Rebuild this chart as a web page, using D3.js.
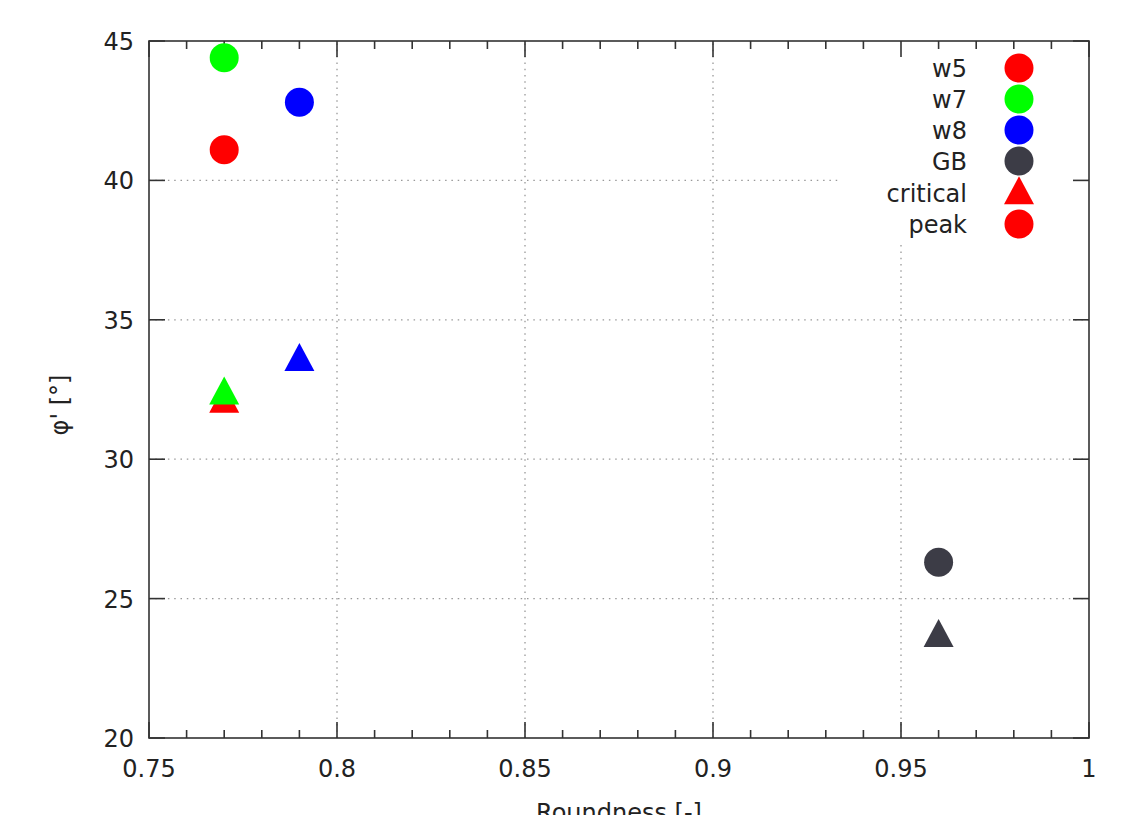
<!DOCTYPE html>
<html><head><meta charset="utf-8">
<script src="https://cdn.jsdelivr.net/npm/d3@7"></script>
<style>body{margin:0;background:#fff}svg{display:block}text{font-family:"DejaVu Sans",sans-serif;fill:#222}</style>
</head><body>
<script>
const series = ["w5","w7","w8","GB"];
const colors = ["#ff0000","#00ff00","#0000ff","#3c3c46"];
const roundness = [0.77, 0.77, 0.79, 0.96];
const peak = [41.1, 44.4, 42.8, 26.3];
const critical = [32.0, 32.3, 33.5, 23.6];
const xTicks = [0.75, 0.8, 0.85, 0.9, 0.95, 1];
const xTickLabels = ["0.75","0.8","0.85","0.9","0.95","1"];
const yTicks = [20, 25, 30, 35, 40, 45];
const legendLabels = ["w5","w7","w8","GB","critical","peak"];

const W = 1137, H = 815;
const L = 149, R = 1089, T = 41, B = 738;
const svg = d3.select("body").append("svg").attr("width", W).attr("height", H);
const x = d3.scaleLinear().domain([0.75, 1]).range([L, R]);
const y = d3.scaleLinear().domain([20, 45]).range([B, T]);
const axisColor = "#333";
const fs = 24;

// grid
const grid = svg.append("g").attr("stroke", "#999").attr("stroke-width", 1.3).attr("stroke-dasharray", "1.5,4.8");
xTicks.slice(1, -1).forEach(v => grid.append("line").attr("x1", x(v)).attr("x2", x(v)).attr("y1", B).attr("y2", T));
yTicks.slice(1, -1).forEach(v => grid.append("line").attr("x1", L).attr("x2", R).attr("y1", y(v)).attr("y2", y(v)));

// legend background box
const legX0 = 840, legY1 = 242;
svg.append("rect").attr("x", legX0).attr("y", T + 1).attr("width", R - legX0 - 1).attr("height", legY1 - T).attr("fill", "#fff");

// axes (ticks inward, mirrored)
const minor = d3.range(0.75, 1.0001, 0.01).map(v => +v.toFixed(2)).filter(v => !xTicks.some(t => Math.abs(t - v) < 1e-9));
const ax = svg.append("g").attr("stroke", axisColor).attr("stroke-width", 1.6);
xTicks.forEach(v => {
  ax.append("line").attr("x1", x(v)).attr("x2", x(v)).attr("y1", B).attr("y2", B - 16);
  ax.append("line").attr("x1", x(v)).attr("x2", x(v)).attr("y1", T).attr("y2", T + 16);
});
minor.forEach(v => {
  ax.append("line").attr("x1", x(v)).attr("x2", x(v)).attr("y1", B).attr("y2", B - 8);
  ax.append("line").attr("x1", x(v)).attr("x2", x(v)).attr("y1", T).attr("y2", T + 8);
});
yTicks.forEach(v => {
  ax.append("line").attr("x1", L).attr("x2", L + 16).attr("y1", y(v)).attr("y2", y(v));
  ax.append("line").attr("x1", R).attr("x2", R - 16).attr("y1", y(v)).attr("y2", y(v));
});
ax.append("rect").attr("x", L).attr("y", T).attr("width", R - L).attr("height", B - T).attr("fill", "none");

// tick labels
xTicks.forEach((v, i) => svg.append("text").attr("x", x(v)).attr("y", 777).attr("text-anchor", "middle").attr("font-size", fs).text(xTickLabels[i]));
yTicks.forEach(v => svg.append("text").attr("x", 134).attr("y", y(v) + 9).attr("text-anchor", "end").attr("font-size", fs).text(v));

// axis titles
svg.append("text").attr("x", (L + R) / 2).attr("y", 821).attr("text-anchor", "middle").attr("font-size", fs).text("Roundness [-]");
svg.append("text").attr("transform", "translate(68," + 405 + ") rotate(-90)").attr("text-anchor", "middle").attr("font-size", fs).text("φ' [°]");

// markers
const rC = 14.5;
const triW = 30, triH = 28;
function tri(cx, cy) {
  return `M${cx},${cy - 2 * triH / 3}L${cx + triW / 2},${cy + triH / 3}L${cx - triW / 2},${cy + triH / 3}Z`;
}
const pts = svg.append("g");
series.forEach((s, i) => {
  pts.append("path").attr("d", tri(x(roundness[i]), y(critical[i]))).attr("fill", colors[i]);
});
series.forEach((s, i) => {
  pts.append("circle").attr("cx", x(roundness[i])).attr("cy", y(peak[i])).attr("r", rC).attr("fill", colors[i]);
});

// legend
const legRows = [68, 99, 130, 161, 193, 224];
const legMarkerX = 1019, legTextX = 967;
legendLabels.forEach((lab, i) => {
  svg.append("text").attr("x", legTextX).attr("y", legRows[i] + 9).attr("text-anchor", "end").attr("font-size", fs).text(lab);
  if (lab === "critical") {
    svg.append("path").attr("d", tri(legMarkerX, legRows[i] + 2)).attr("fill", "#ff0000");
  } else {
    const c = lab === "peak" ? "#ff0000" : colors[series.indexOf(lab)];
    svg.append("circle").attr("cx", legMarkerX).attr("cy", legRows[i]).attr("r", rC).attr("fill", c);
  }
});
</script>
</body></html>
